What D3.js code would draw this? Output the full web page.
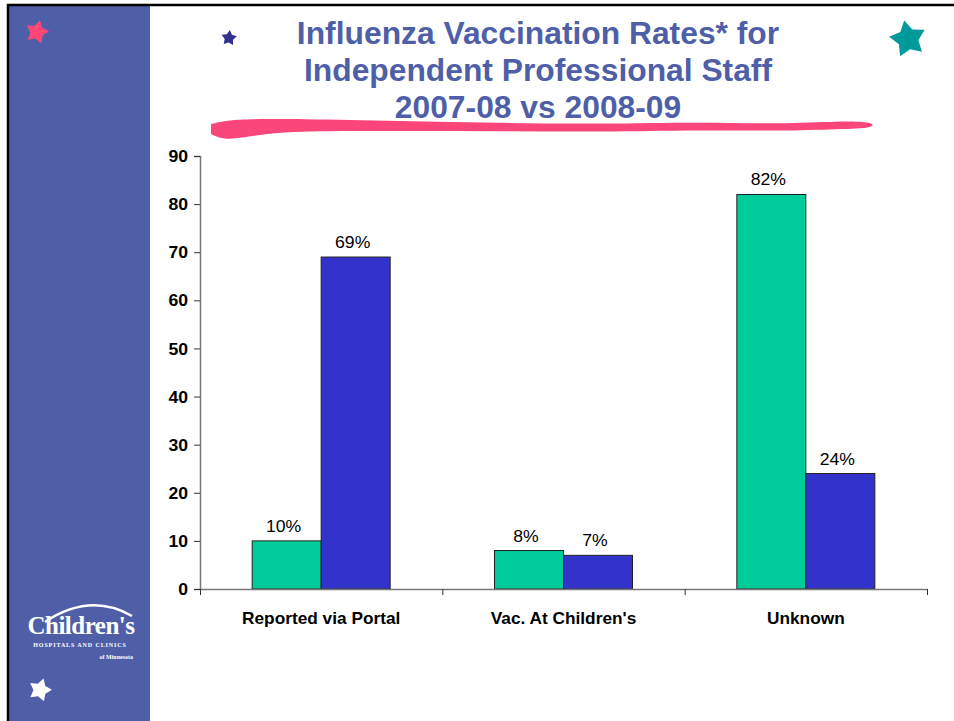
<!DOCTYPE html>
<html>
<head>
<meta charset="utf-8">
<script src="https://cdn.jsdelivr.net/npm/d3@7"></script>
<style>
  body { margin: 0; background: #fff; }
  svg text { font-family: Arial, "Liberation Sans", sans-serif; }
</style>
</head>
<body>
<div id="chart"></div>
<script>
// chart data
const categories = ["Reported via Portal", "Vac. At Children's", "Unknown"];
const seasons = ["2007-08", "2008-09"];
const rate0708 = [10, 8, 82];
const rate0809 = [69, 7, 24];
const yTicks = [0, 10, 20, 30, 40, 50, 60, 70, 80, 90];
const titleLines = ["Influenza Vaccination Rates* for", "Independent Professional Staff", "2007-08 vs 2008-09"];

const W = 954, H = 721;
const svg = d3.select("#chart").append("svg")
    .attr("width", W).attr("height", H);

// slide frame + left sidebar
svg.append("rect").attr("x", 9).attr("y", 6).attr("width", 141).attr("height", H)
    .attr("fill", "#4f5fa7");
svg.append("line").attr("x1", 7).attr("x2", W).attr("y1", 5).attr("y2", 5)
    .attr("stroke", "#000").attr("stroke-width", 2.5);
svg.append("line").attr("x1", 8).attr("x2", 8).attr("y1", 4).attr("y2", H)
    .attr("stroke", "#000").attr("stroke-width", 2.5);

// star helper (decoration only)
function starPath(cx, cy, r, rot) {
    const pts = [];
    for (let i = 0; i < 10; i++) {
        const a = rot + i * Math.PI / 5 - Math.PI / 2;
        const rr = i % 2 === 0 ? r : r * 0.55;
        pts.push([cx + rr * Math.cos(a), cy + rr * Math.sin(a)]);
    }
    return d3.line().curve(d3.curveLinearClosed)(pts);
}
svg.append("path").attr("d", starPath(37, 32, 12, 0.25)).attr("fill", "#ff4777");
svg.append("path").attr("d", starPath(229, 38, 8, 0.1)).attr("fill", "#33338f");
svg.append("path").attr("d", starPath(908, 39, 19, -0.2)).attr("fill", "#009a9a");
svg.append("path").attr("d", starPath(40, 690, 12, 0.3)).attr("fill", "#fff");

// Children's logo in the sidebar
const logo = svg.append("g");
logo.append("path")
    .attr("d", "M45,622 Q90,592 132,616")
    .attr("fill", "none").attr("stroke", "#fff").attr("stroke-width", 2.5);
logo.append("text").attr("x", 81).attr("y", 634).attr("text-anchor", "middle")
    .attr("fill", "#fff").style("font-family", "'Liberation Serif', serif")
    .style("font-weight", "bold").style("font-size", "25px").style("letter-spacing", "-0.5px")
    .text("Children's");
logo.append("text").attr("x", 80).attr("y", 647).attr("text-anchor", "middle")
    .attr("fill", "#fff").style("font-family", "'Liberation Serif', serif")
    .style("font-weight", "bold").style("font-size", "6px").style("letter-spacing", "0.9px")
    .text("HOSPITALS AND CLINICS");
logo.append("text").attr("x", 133).attr("y", 659).attr("text-anchor", "end")
    .attr("fill", "#fff").style("font-family", "'Liberation Serif', serif")
    .style("font-weight", "bold").style("font-size", "6px").text("of Minnesota");

// title
svg.append("g").selectAll("text")
    .data(titleLines)
    .enter().append("text")
    .attr("text-anchor", "middle")
    .attr("transform", (d, i) => `translate(538,${44 + i * 37}) scale(1.06,1.05)`)
    .attr("fill", "#4f5fa7")
    .style("font-weight", "bold").style("font-size", "30px")
    .text(d => d);

// pink brush stroke under title
const brushTop = [[211, 124], [232, 119], [300, 119], [400, 121], [500, 123], [600, 124], [700, 122], [780, 124], [840, 121], [874, 122]];
const brushBot = [[211, 134], [226, 141], [262, 134], [300, 131], [400, 131], [500, 131], [600, 132], [700, 130], [780, 131], [840, 129], [874, 128]];
svg.append("path")
    .attr("d", d3.line().curve(d3.curveBasis)(brushTop.concat(brushBot.slice().reverse())) + "Z")
    .attr("fill", "#fa4679");

// scales
const x = d3.scaleBand().domain(categories).range([200, 927]);
const xEdge = d3.scaleLinear().domain([0, categories.length]).range([200, 927]);
const xSub = d3.scaleBand().domain(seasons).range([0, x.bandwidth()])
    .paddingInner(0).paddingOuter(0.756);
const y = d3.scaleLinear().domain([0, 90]).range([589, 156]);
const colors = d3.scaleOrdinal().domain(seasons).range(["#00cc99", "#3333cc"]);

const rows = categories.map((c, i) => ({ cat: c, values: [rate0708[i], rate0809[i]] }));

// bars
const groups = svg.append("g").selectAll("g")
    .data(rows)
    .enter().append("g")
    .attr("transform", d => `translate(${x(d.cat)},0)`);

groups.selectAll("rect")
    .data(d => d.values.map((v, j) => ({ season: seasons[j], value: v })))
    .enter().append("rect")
    .attr("x", d => xSub(d.season))
    .attr("y", d => y(d.value))
    .attr("width", xSub.bandwidth())
    .attr("height", d => y(0) - y(d.value))
    .attr("fill", d => colors(d.season))
    .attr("stroke", "#222").attr("stroke-width", 1);

groups.selectAll("text")
    .data(d => d.values.map((v, j) => ({ season: seasons[j], value: v })))
    .enter().append("text")
    .attr("text-anchor", "middle")
    .attr("transform", d => `translate(${xSub(d.season) + xSub.bandwidth() / 2 - 3},${y(d.value) - 9}) scale(1.1,1.05)`)
    .style("font-size", "16px").attr("fill", "#000")
    .text(d => d.value + "%");

// y axis
const yAxis = svg.append("g").attr("transform", "translate(200,0)")
    .call(d3.axisLeft(y).tickValues(yTicks).tickSize(6).tickPadding(6));
yAxis.select(".domain").attr("stroke", "#777").attr("stroke-width", 1.5);
yAxis.selectAll(".tick line").attr("stroke", "#333");
yAxis.selectAll(".tick text")
    .style("font-size", "16px").style("font-weight", "bold").attr("fill", "#000")
    .attr("x", null).attr("dy", "0.35em")
    .attr("transform", "translate(-12,0) scale(1.1,1)");

// x axis with category-boundary ticks
const xAxis = svg.append("g").attr("transform", `translate(0,${y(0)})`)
    .call(d3.axisBottom(xEdge).tickValues(d3.range(categories.length + 1))
        .tickFormat("").tickSizeInner(6).tickSizeOuter(0));
xAxis.select(".domain").attr("stroke", "#777").attr("stroke-width", 1.5);
xAxis.selectAll(".tick line").attr("stroke", "#333");

svg.append("g").selectAll("text")
    .data(categories)
    .enter().append("text")
    .attr("text-anchor", "middle")
    .attr("transform", d => `translate(${x(d) + x.bandwidth() / 2},624) scale(1.08,1)`)
    .style("font-size", "16px").style("font-weight", "bold").attr("fill", "#000")
    .text(d => d);
</script>
</body>
</html>
